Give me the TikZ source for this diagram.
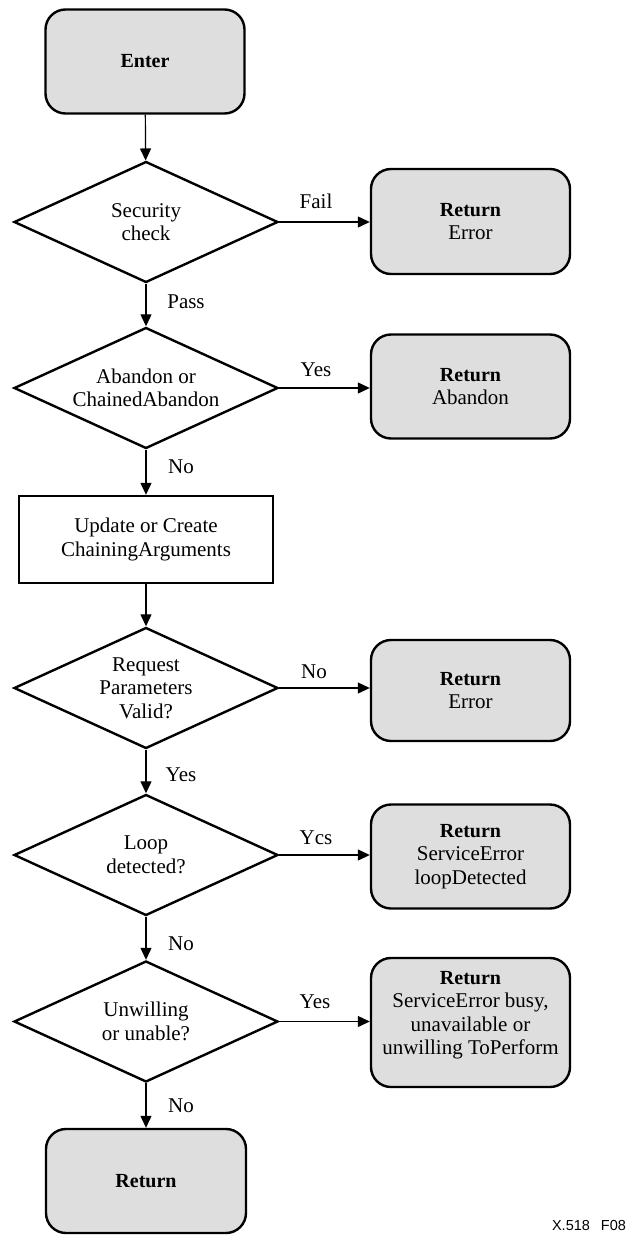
\documentclass[tikz,border=0pt]{standalone}
\usepackage{fontspec}
\setmainfont{Liberation Serif}
\newfontfamily\capfont{Liberation Sans}
\usetikzlibrary{shapes.geometric,arrows.meta}
\definecolor{boxgray}{HTML}{DEDEDE}
\newcommand{\hd}[1]{{\fontsize{20}{24}\selectfont\bfseries #1}}
\tikzset{
  base/.style={font=\fontsize{21}{23.5}\selectfont, align=center, inner sep=0pt},
  terminal/.style={base, draw, line width=2.4pt, fill=boxgray, rounded corners=20pt,
    minimum width=199pt, minimum height=104pt},
  decision/.style={base, draw, line width=2.4pt, diamond, aspect=2.2,
    minimum width=264pt, minimum height=121pt},
  process/.style={base, draw, line width=2.4pt, minimum width=254pt, minimum height=87pt},
  flow/.style={line width=1.2pt, -{Triangle[length=12pt,width=11pt]}},
  lbl/.style={base}
}
\begin{document}
\begin{tikzpicture}[x=1pt,y=-1pt]
  \useasboundingbox (0,0) rectangle (629,1236);

  % main column
  \node[terminal] (enter) at (145,61.5) {\hd{Enter}};
  \node[decision] (sec) at (146,222) {Security\\check};
  \node[decision] (aband) at (146,388) {Abandon or\\ChainedAbandon};
  \node[process] (upd) at (146,539.5) {Update or Create\\ChainingArguments};
  \node[decision] (req) at (146,688) {Request\\Parameters\\Valid?};
  \node[decision] (loop) at (146,855) {Loop\\detected?};
  \node[decision] (unw) at (146,1021.5) {Unwilling\\or unable?};
  \node[terminal, minimum width=200pt] (ret) at (146,1181) {\hd{Return}};

  % outcomes on the right
  \node[terminal, minimum height=105pt] (rerr1) at (470.5,221.5) {\hd{Return}\\Error};
  \node[terminal] (rab) at (470.5,386.5) {\hd{Return}\\Abandon};
  \node[terminal, minimum height=101pt] (rerr2) at (470.5,690.5) {\hd{Return}\\Error};
  \node[terminal] (rloop) at (470.5,856.5) {\hd{Return}\\ServiceError\\loopDetected};
  \node[terminal, minimum height=129pt] (rbusy) at (470.5,1022.5) {};
  \node[base] (rbusytext) at (470.5,1015)
    {\hd{Return}\\ServiceError busy,\\unavailable or\\unwilling ToPerform};

  % vertical flow
  \draw[flow] (enter) -- (sec);
  \draw[flow] (sec) -- (aband);
  \draw[flow] (aband) -- (upd);
  \draw[flow] (upd) -- (req);
  \draw[flow] (req) -- (loop);
  \draw[flow] (loop) -- (unw);
  \draw[flow] (unw) -- (ret);

  % branches
  \draw[flow] (sec.east) -- (sec.east -| rerr1.west);
  \draw[flow] (aband.east) -- (aband.east -| rab.west);
  \draw[flow] (req.east) -- (req.east -| rerr2.west);
  \draw[flow] (loop.east) -- (loop.east -| rloop.west);
  \draw[flow] (unw.east) -- (unw.east -| rbusy.west);

  % connector labels
  \node[lbl] (lfail) at (316,201) {Fail};
  \node[lbl] (lpass) at (186,302) {Pass};
  \node[lbl] (lyes1) at (316,370) {Yes};
  \node[lbl] (lno1) at (181,467) {No};
  \node[lbl] (lno2) at (314,672) {No};
  \node[lbl] (lyes2) at (181,775) {Yes};
  \node[lbl] (lycs) at (316,838) {Ycs};
  \node[lbl] (lno3) at (181,944) {No};
  \node[lbl] (lyes3) at (315,1002) {Yes};
  \node[lbl] (lno4) at (181,1106) {No};

  % figure tag
  \node[inner sep=0pt, font=\capfont\fontsize{14.5}{16}\selectfont] (tag) at (589,1225) {X.518\hspace{11pt}F08};
\end{tikzpicture}
\end{document}
